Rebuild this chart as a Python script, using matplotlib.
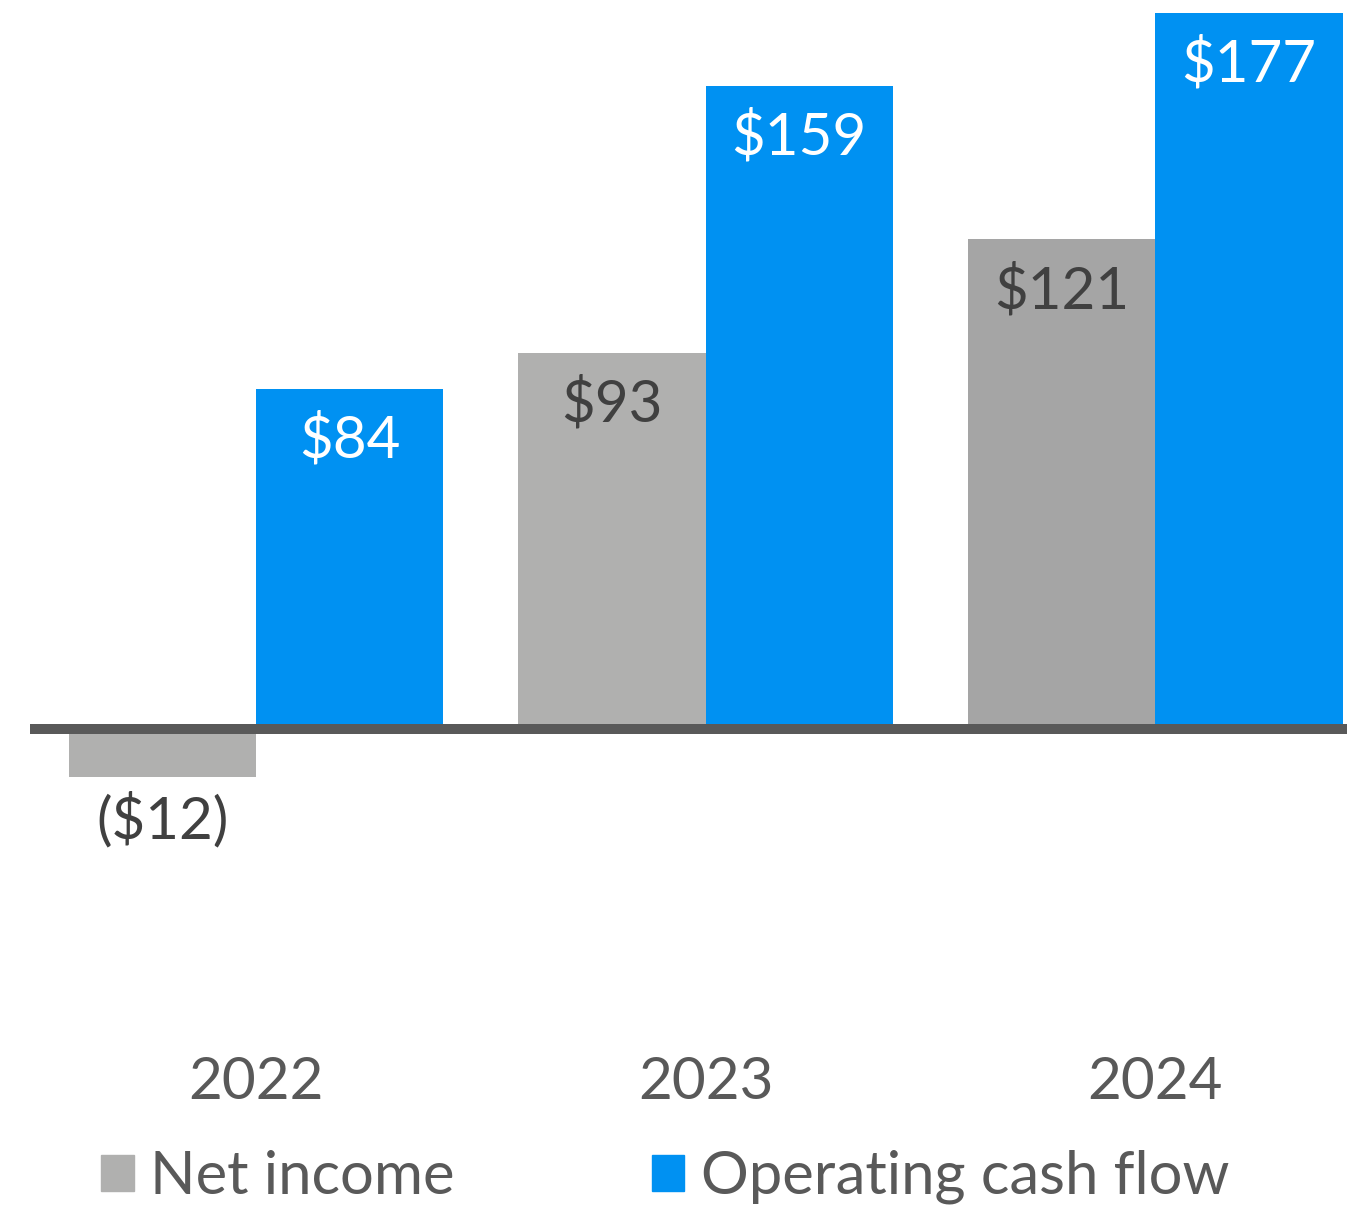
import matplotlib.pyplot as plt
from matplotlib.patches import Patch
import numpy as np

plt.rcParams['font.family'] = ['Lato', 'DejaVu Sans']

# data
years = ["2022", "2023", "2024"]
net_income = [-12, 93, 121]
op_cash_flow = [84, 159, 177]
net_labels = ["($12)", "$93", "$121"]
ocf_labels = ["$84", "$159", "$177"]

gray_colors = ["#b0b0af", "#b0b0af", "#a5a5a5"]
blue = "#0091f2"

fig = plt.figure(figsize=(13.47, 12.07), dpi=100)
ax = fig.add_axes([0, 0, 1, 1])

x = np.arange(len(years))
w = 0.417

ni_bars = ax.bar(x - w / 2, net_income, w, color=gray_colors, linewidth=0)
ocf_bars = ax.bar(x + w / 2, op_cash_flow, w, color=blue, linewidth=0)

ax.set_xlim(-0.5695, 2.427)
ax.set_ylim(-118.2, 180.2)
ax.axis("off")

# zero line
ax.axhline(0, xmin=30 / 1347, xmax=1, color="#595959", linewidth=7.2,
           solid_capstyle="butt", zorder=3)

# value labels
for b, lab, v in zip(ni_bars, net_labels, net_income):
    if v < 0:
        ax.annotate(lab, (b.get_x() + b.get_width() / 2, v), xytext=(0, -31),
                    textcoords="offset points", ha="center", va="center",
                    fontsize=42, color="#404040")
    else:
        ax.annotate(lab, (b.get_x() + b.get_width() / 2, v), xytext=(0, -37),
                    textcoords="offset points", ha="center", va="center",
                    fontsize=42, color="#404040")
for b, lab, v in zip(ocf_bars, ocf_labels, op_cash_flow):
    ax.annotate(lab, (b.get_x() + b.get_width() / 2, v), xytext=(0, -37),
                textcoords="offset points", ha="center", va="center",
                fontsize=42, color="white")

# year labels
for xi, yr in zip(x, years):
    ax.text(xi, -87.3, yr, ha="center", va="center", fontsize=42, color="#595959")

handles = [Patch(color=gray_colors[0]), Patch(color=blue)]
ax.legend(handles, ["Net income", "Operating cash flow"], ncol=2,
          loc="center left", bbox_to_anchor=(101 / 1347, 1 - 1177 / 1207),
          bbox_transform=fig.transFigure, frameon=False, fontsize=43,
          labelcolor="#595959", handlelength=0.55, handleheight=0.55,
          handletextpad=0.27, columnspacing=3.3, borderpad=0, borderaxespad=0)

fig.savefig("out.png", dpi=100)
